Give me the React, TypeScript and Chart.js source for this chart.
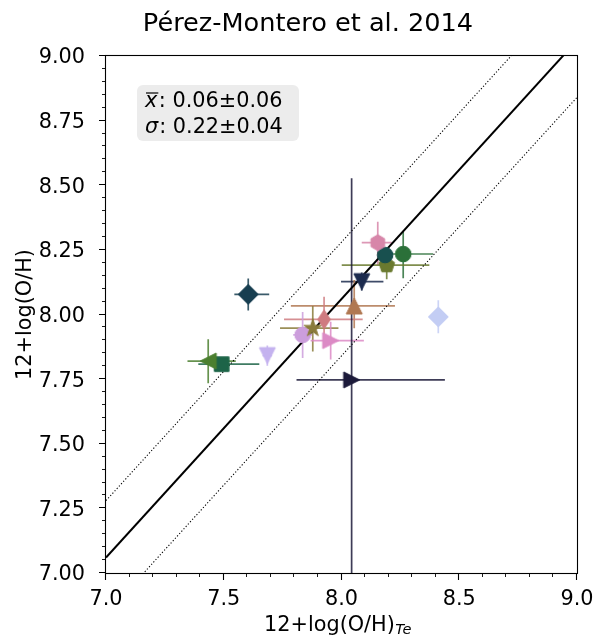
import { useEffect, useRef } from "react";
import { Chart, registerables } from "chart.js";

Chart.register(...registerables);

// ---- data ----
const titleText = "Pérez-Montero et al. 2014";
const xLabelMain = "12+log(O/H)";
const xLabelSub = "Te";
const yLabelText = "12+log(O/H)";
const statMean = "0.06±0.06";
const statSigma = "0.22±0.04";
const meanOffset = 0.06;
const sigmaBand = 0.22;

const xVals = [7.604, 8.411, 8.154, 8.185, 8.262, 8.192, 8.086, 8.054, 7.926, 7.878, 7.835, 7.954, 7.685, 7.434, 7.491, 8.043];
const yVals = [8.078, 7.991, 8.278, 8.230, 8.234, 8.191, 8.127, 8.033, 7.981, 7.947, 7.921, 7.899, 7.841, 7.820, 7.808, 7.747];
const xErrLo = [0.059, 0.03, 0.068, 0.02, 0.085, 0.191, 0.088, 0.269, 0.170, 0.139, 0.040, 0.085, 0.02, 0.088, 0.099, 0.234];
const xErrHi = [0.089, 0.03, 0.059, 0.02, 0.127, 0.181, 0.092, 0.173, 0.164, 0.109, 0.040, 0.141, 0.02, 0.117, 0.160, 0.396];
const yErrLo = [0.063, 0.064, 0.086, 0.02, 0.094, 0.055, 0.035, 0.086, 0.080, 0.090, 0.089, 0.073, 0.039, 0.086, 0.02, 0.780];
const yErrHi = [0.061, 0.064, 0.081, 0.02, 0.086, 0.055, 0.035, 0.100, 0.088, 0.086, 0.089, 0.073, 0.039, 0.084, 0.02, 0.780];
const colors = [
  "#173e50", "#c3cdf4", "#d786a9", "#18504f", "#2b7039", "#6a7a2f", "#1c2b4e", "#b07852",
  "#cf7b80", "#8a7b3b", "#cc9edc", "#dc8ac5", "#c4b2ef", "#4b7f2f", "#1d6448", "#1c1a3a",
];
const markers = [
  "diamond", "diamond", "hexagon", "circle", "circle", "pentagon", "tri_down", "tri_up",
  "thin_diamond", "star", "circle", "tri_right", "tri_down", "tri_left", "square", "tri_right",
];
const xTickStep = 0.5;
const yTickStep = 0.25;
const xMinorStep = 0.1;
const yMinorStep = 0.05;
const axisMin = 7;
const axisMax = 9;

const FONT = '"DejaVu Sans", "Liberation Sans", sans-serif';

// target plot frame in page pixels
const AREA = { left: 106, right: 577, top: 56, bottom: 573 };

function makeMarker(shape: string, color: string): HTMLCanvasElement {
  const c = document.createElement("canvas");
  c.width = 28;
  c.height = 28;
  const ctx = c.getContext("2d")!;
  const cx = 14, cy = 14;
  ctx.fillStyle = color;
  ctx.strokeStyle = color;
  ctx.lineWidth = 1;
  ctx.beginPath();
  const poly = (pts: number[][]) => {
    pts.forEach(([px, py], i) => (i === 0 ? ctx.moveTo(cx + px, cy + py) : ctx.lineTo(cx + px, cy + py)));
    ctx.closePath();
  };
  const h = 8;
  switch (shape) {
    case "circle":
      ctx.arc(cx, cy, 7.8, 0, Math.PI * 2);
      break;
    case "square":
      poly([[-7.3, -7.3], [7.3, -7.3], [7.3, 7.3], [-7.3, 7.3]]);
      break;
    case "diamond":
      poly([[0, -10], [10, 0], [0, 10], [-10, 0]]);
      break;
    case "thin_diamond":
      poly([[0, -9.5], [6.3, 0], [0, 9.5], [-6.3, 0]]);
      break;
    case "tri_up":
      poly([[0, -h], [h, h], [-h, h]]);
      break;
    case "tri_down":
      poly([[0, h], [h, -h], [-h, -h]]);
      break;
    case "tri_right":
      poly([[h, 0], [-h, -h], [-h, h]]);
      break;
    case "tri_left":
      poly([[-h, 0], [h, -h], [h, h]]);
      break;
    case "pentagon": {
      const pts: number[][] = [];
      for (let k = 0; k < 5; k++) {
        const a = -Math.PI / 2 + (k * 2 * Math.PI) / 5;
        pts.push([8.3 * Math.cos(a), 8.3 * Math.sin(a)]);
      }
      poly(pts);
      break;
    }
    case "hexagon": {
      const pts: number[][] = [];
      for (let k = 0; k < 6; k++) {
        const a = -Math.PI / 2 + (k * 2 * Math.PI) / 6;
        pts.push([7.9 * Math.cos(a), 7.9 * Math.sin(a)]);
      }
      poly(pts);
      break;
    }
    case "star": {
      const pts: number[][] = [];
      for (let k = 0; k < 10; k++) {
        const a = -Math.PI / 2 + (k * Math.PI) / 5;
        const r = k % 2 === 0 ? 9.2 : 9.2 * 0.382;
        pts.push([r * Math.cos(a), r * Math.sin(a)]);
      }
      poly(pts);
      break;
    }
  }
  ctx.fill();
  ctx.stroke();
  return c;
}

const errorBarPlugin = {
  id: "errorBars",
  beforeDatasetsDraw(chart: any) {
    const { ctx, chartArea, scales } = chart;
    const xs = scales.x, ys = scales.y;
    ctx.save();
    ctx.beginPath();
    ctx.rect(chartArea.left, chartArea.top, chartArea.right - chartArea.left, chartArea.bottom - chartArea.top);
    ctx.clip();
    ctx.lineWidth = 1.7;
    ctx.globalAlpha = 0.85;
    for (let i = 0; i < xVals.length; i++) {
      const px = xs.getPixelForValue(xVals[i]);
      const py = ys.getPixelForValue(yVals[i]);
      ctx.strokeStyle = colors[i];
      ctx.beginPath();
      ctx.moveTo(xs.getPixelForValue(xVals[i] - xErrLo[i]), py);
      ctx.lineTo(xs.getPixelForValue(xVals[i] + xErrHi[i]), py);
      ctx.moveTo(px, ys.getPixelForValue(yVals[i] - yErrLo[i]));
      ctx.lineTo(px, ys.getPixelForValue(yVals[i] + yErrHi[i]));
      ctx.stroke();
    }
    ctx.restore();
  },
};

const decorPlugin = {
  id: "decor",
  afterDraw(chart: any) {
    const { ctx, chartArea, scales } = chart;
    const xs = scales.x, ys = scales.y;
    const { left, right, top, bottom } = chartArea;
    ctx.save();
    // frame
    ctx.strokeStyle = "#000";
    ctx.lineWidth = 1.1;
    ctx.strokeRect(Math.round(left) - 0.5, Math.round(top) - 0.5, Math.round(right - left) + 1, Math.round(bottom - top) + 1);
    // major ticks
    ctx.lineWidth = 1.1;
    ctx.beginPath();
    for (let v = axisMin; v <= axisMax + 1e-9; v += xTickStep) {
      const p = Math.round(xs.getPixelForValue(v)) - 0.5;
      ctx.moveTo(p, bottom);
      ctx.lineTo(p, bottom + 7);
    }
    for (let v = axisMin; v <= axisMax + 1e-9; v += yTickStep) {
      const p = Math.round(ys.getPixelForValue(v)) - 0.5;
      ctx.moveTo(left, p);
      ctx.lineTo(left - 7, p);
    }
    ctx.stroke();
    // minor ticks
    ctx.lineWidth = 0.9;
    ctx.beginPath();
    const nx = Math.round((axisMax - axisMin) / xMinorStep);
    for (let k = 0; k <= nx; k++) {
      const v = axisMin + k * xMinorStep;
      if (Math.abs(v / xTickStep - Math.round(v / xTickStep)) < 1e-6) continue;
      const p = Math.round(xs.getPixelForValue(v)) - 0.5;
      ctx.moveTo(p, bottom);
      ctx.lineTo(p, bottom + 4);
    }
    const ny = Math.round((axisMax - axisMin) / yMinorStep);
    for (let k = 0; k <= ny; k++) {
      const v = axisMin + k * yMinorStep;
      if (Math.abs(v / yTickStep - Math.round(v / yTickStep)) < 1e-6) continue;
      const p = Math.round(ys.getPixelForValue(v)) - 0.5;
      ctx.moveTo(left, p);
      ctx.lineTo(left - 4, p);
    }
    ctx.stroke();

    ctx.fillStyle = "#000";
    // title
    ctx.font = `25.6px ${FONT}`;
    ctx.textAlign = "center";
    ctx.textBaseline = "alphabetic";
    ctx.fillText(titleText, 308, 31);

    // x label
    ctx.textAlign = "left";
    ctx.font = `20.8px ${FONT}`;
    const mainW = ctx.measureText(xLabelMain).width;
    ctx.font = `italic 14.6px ${FONT}`;
    const subW = ctx.measureText(xLabelSub).width;
    const startX = (left + right) / 2 - (mainW + subW) / 2 - 4;
    ctx.font = `20.8px ${FONT}`;
    ctx.fillText(xLabelMain, startX, 630.5);
    ctx.font = `italic 14.6px ${FONT}`;
    ctx.fillText(xLabelSub, startX + mainW + 0.5, 634);

    // y label
    ctx.save();
    ctx.translate(31, (top + bottom) / 2);
    ctx.rotate(-Math.PI / 2);
    ctx.textAlign = "center";
    ctx.font = `20.8px ${FONT}`;
    ctx.fillText(yLabelText, 0, 0);
    ctx.restore();

    // stats box
    const bx = 137, by = 85, bw = 162, bh = 56, r = 6;
    ctx.fillStyle = "rgb(236,236,236)";
    ctx.beginPath();
    ctx.moveTo(bx + r, by);
    ctx.lineTo(bx + bw - r, by);
    ctx.arcTo(bx + bw, by, bx + bw, by + r, r);
    ctx.lineTo(bx + bw, by + bh - r);
    ctx.arcTo(bx + bw, by + bh, bx + bw - r, by + bh, r);
    ctx.lineTo(bx + r, by + bh);
    ctx.arcTo(bx, by + bh, bx, by + bh - r, r);
    ctx.lineTo(bx, by + r);
    ctx.arcTo(bx, by, bx + r, by, r);
    ctx.closePath();
    ctx.fill();

    ctx.fillStyle = "#000";
    ctx.textAlign = "left";
    const tx = 145;
    ctx.font = `italic 20.8px ${FONT}`;
    ctx.fillText("x", tx, 106.5);
    const xw = ctx.measureText("x").width;
    ctx.strokeStyle = "#000";
    ctx.lineWidth = 1.2;
    ctx.beginPath();
    ctx.moveTo(tx + 1, 93);
    ctx.lineTo(tx + xw + 1, 93);
    ctx.stroke();
    ctx.font = `20.8px ${FONT}`;
    ctx.fillText(": " + statMean, tx + xw + 1.5, 106.5);

    ctx.font = `italic 20.8px ${FONT}`;
    ctx.fillText("σ", tx, 132.5);
    const sw = ctx.measureText("σ").width;
    ctx.font = `20.8px ${FONT}`;
    ctx.fillText(": " + statSigma, tx + sw + 1, 132.5);

    ctx.restore();
  },
};

export default function App() {
  const ref = useRef<HTMLCanvasElement | null>(null);
  useEffect(() => {
    const canvas = ref.current;
    if (!canvas) return;
    const pointSets = xVals.map((x, i) => ({
      type: "scatter" as const,
      data: [{ x, y: yVals[i] }],
      pointStyle: makeMarker(markers[i], colors[i]),
      backgroundColor: colors[i],
      borderColor: colors[i],
      order: 0,
    }));
    const lineSets = [
      { off: meanOffset, dash: [] as number[], width: 2 },
      { off: meanOffset + sigmaBand, dash: [1.2, 2], width: 1.1 },
      { off: meanOffset - sigmaBand, dash: [1.2, 2], width: 1.1 },
    ].map((l) => ({
      type: "line" as const,
      data: [
        { x: axisMin, y: axisMin + l.off },
        { x: axisMax, y: axisMax + l.off },
      ],
      borderColor: "#000",
      borderWidth: l.width,
      borderDash: l.dash,
      pointRadius: 0,
      fill: false,
      tension: 0,
      order: 1,
    }));
    const padding = { top: AREA.top, right: 603 - AREA.right, left: 0, bottom: 0 };
    const chart = new Chart(canvas, {
      type: "scatter",
      data: { datasets: [...pointSets, ...lineSets] as any },
      options: {
        animation: false,
        responsive: false,
        devicePixelRatio: 1,
        layout: { padding },
        plugins: { legend: { display: false }, tooltip: { enabled: false }, title: { display: false } },
        scales: {
          x: {
            type: "linear",
            min: axisMin,
            max: axisMax,
            grid: { display: false },
            border: { display: false },
            ticks: {
              stepSize: xTickStep,
              padding: 6,
              color: "#000",
              font: { family: FONT, size: 20.8 },
              callback: (v: any) => Number(v).toFixed(1),
              maxRotation: 0,
            },
            afterFit: (s: any) => {
              s.height = 635 - AREA.bottom;
            },
          },
          y: {
            type: "linear",
            min: axisMin,
            max: axisMax,
            grid: { display: false },
            border: { display: false },
            ticks: {
              stepSize: yTickStep,
              padding: 13,
              labelOffset: 2,
              color: "#000",
              font: { family: FONT, size: 20.8 },
              callback: (v: any) => Number(v).toFixed(2),
            },
            afterFit: (s: any) => {
              s.width = AREA.left;
            },
          },
        },
      } as any,
      plugins: [errorBarPlugin, decorPlugin],
    });
    // correct the frame to the target box (Chart.js adds label overflow to the padding)
    for (let k = 0; k < 3; k++) {
      const ca = chart.chartArea;
      const dl = AREA.left - ca.left;
      const dt = AREA.top - ca.top;
      const dr = ca.right - AREA.right;
      const db = ca.bottom - AREA.bottom;
      if (Math.abs(dl) < 0.5 && Math.abs(dt) < 0.5 && Math.abs(dr) < 0.5 && Math.abs(db) < 0.5) break;
      padding.left = Math.max(0, padding.left + dl);
      padding.top = Math.max(0, padding.top + dt);
      padding.right = Math.max(0, padding.right + dr);
      padding.bottom = Math.max(0, padding.bottom + db);
      (chart.options as any).layout.padding = { ...padding };
      chart.update();
    }
    return () => chart.destroy();
  }, []);
  return (
    <div style={{ position: "absolute", left: 0, top: 0, width: 603, height: 635, background: "#fff" }}>
      <canvas ref={ref} width={603} height={635} style={{ width: 603, height: 635 }} />
    </div>
  );
}
